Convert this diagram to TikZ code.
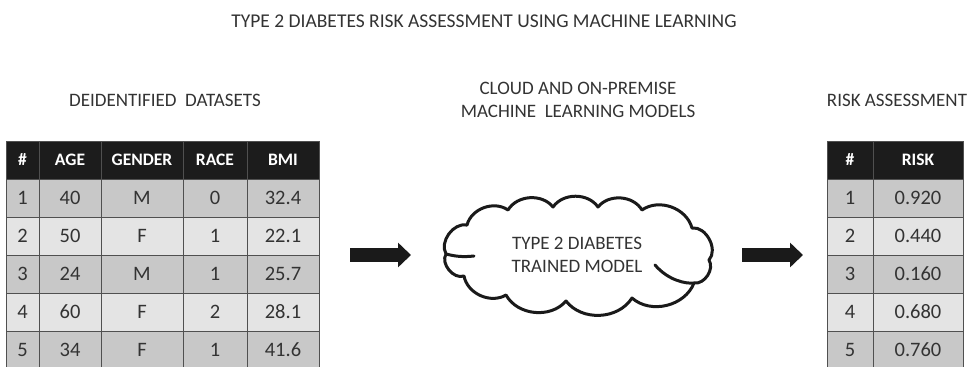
\documentclass[tikz,border=0pt]{standalone}
\usepackage{fontspec}
\setmainfont{Carlito}
\usetikzlibrary{arrows.meta}
\definecolor{txt}{HTML}{333333}
\definecolor{gridc}{HTML}{505050}
\definecolor{hdr}{HTML}{1C1C1C}
\definecolor{rowdark}{HTML}{C8C8C8}
\definecolor{rowlight}{HTML}{E4E4E4}
\definecolor{ink}{HTML}{1A1A1A}

% one row of the dataset table: id, top y, style, five texts
\newcommand\dsrow[8]{%
  \node[#3, minimum width=33] (L#1a) at (6,#2) {#4};
  \node[#3, minimum width=62] (L#1b) at (39,#2) {#5};
  \node[#3, minimum width=82] (L#1c) at (101,#2) {#6};
  \node[#3, minimum width=64] (L#1d) at (183,#2) {#7};
  \node[#3, minimum width=72] (L#1e) at (247,#2) {#8};}
% one row of the risk table
\newcommand\rkrow[5]{%
  \node[#3, minimum width=46] (R#1a) at (827,#2) {#4};
  \node[#3, minimum width=90] (R#1b) at (873,#2) {#5};}

\begin{document}
\begin{tikzpicture}[x=1pt,y=-1pt,
  cell/.style={draw=gridc, line width=1pt, inner sep=0pt, outer sep=0pt,
    anchor=north west, minimum height=38, text=txt,
    font=\fontsize{20.5}{23}\selectfont},
  dark/.style={cell, fill=rowdark},
  light/.style={cell, fill=rowlight},
  head/.style={cell, fill=hdr, text=white,
    font=\bfseries\fontsize{17.5}{20}\selectfont},
  label/.style={text=txt, align=center, inner sep=0pt,
    font=\fontsize{19}{23}\selectfont},
  bigarrow/.style={draw=ink, line width=14pt,
    -{Triangle[length=13pt,width=24pt]}},
  cloudline/.style={draw=ink, line width=3pt, line cap=round, line join=round}]
\useasboundingbox (0,0) rectangle (970,367);

% titles
\node[label, font=\fontsize{19.5}{23}\selectfont] (title) at (484,21)
  {TYPE 2 DIABETES RISK ASSESSMENT USING MACHINE LEARNING};
\node[label] (dslabel) at (165,100) {DEIDENTIFIED\ \ DATASETS};
\node[label] (mllabel) at (578,99.5) {CLOUD AND ON-PREMISE\\MACHINE\ \ LEARNING MODELS};
\node[label] (rklabel) at (897,100) {RISK ASSESSMENT};

% dataset table
\dsrow{0}{141}{head}{\#}{AGE}{GENDER}{RACE}{BMI}
\dsrow{1}{179}{dark}{1}{40}{M}{0}{32.4}
\dsrow{2}{217}{light}{2}{50}{F}{1}{22.1}
\dsrow{3}{255}{dark}{3}{24}{M}{1}{25.7}
\dsrow{4}{293}{light}{4}{60}{F}{2}{28.1}
\dsrow{5}{331}{dark}{5}{34}{F}{1}{41.6}

% risk table
\rkrow{0}{141}{head}{\#}{RISK}
\rkrow{1}{179}{dark}{1}{0.920}
\rkrow{2}{217}{light}{2}{0.440}
\rkrow{3}{255}{dark}{3}{0.160}
\rkrow{4}{293}{light}{4}{0.680}
\rkrow{5}{331}{dark}{5}{0.760}

% cloud outline, lobe by lobe
\coordinate (c1) at (446,254);
\coordinate (c2) at (467,225);
\coordinate (c3) at (508,210);
\coordinate (c4) at (553,207);
\coordinate (c5) at (598,207);
\coordinate (c6) at (642,210);
\coordinate (c7) at (692,228);
\coordinate (c8) at (709,260);
\coordinate (c9) at (694,283);
\coordinate (c10) at (632,298);
\coordinate (c11) at (566,301);
\coordinate (c12) at (506,295);
\coordinate (c13) at (464,276);
\path[cloudline] (c1) to[bend left=65] (c2) to[bend left=55] (c3)
  to[bend left=55] (c4) to[bend left=55] (c5) to[bend left=55] (c6)
  to[bend left=55] (c7) to[bend left=70] (c8) to[bend left=65] (c9)
  to[bend left=55] (c10) to[bend left=55] (c11) to[bend left=55] (c12)
  to[bend left=55] (c13) to[bend left=70] (c1);
% inner curls of the cloud
\draw[cloudline] (c1) to[bend right=10] (474,256);
\draw[cloudline] (655,265) .. controls (668,280) and (685,284) .. (c9);
\node[label] (cloud) at (577,255) {TYPE 2 DIABETES\\TRAINED MODEL};

% flow arrows
\coordinate (a1s) at (350,255);
\coordinate (a1e) at (411,255);
\coordinate (a2s) at (742,255);
\coordinate (a2e) at (803,255);
\draw[bigarrow] (a1s) -- (a1e);
\draw[bigarrow] (a2s) -- (a2e);
\end{tikzpicture}
\end{document}
